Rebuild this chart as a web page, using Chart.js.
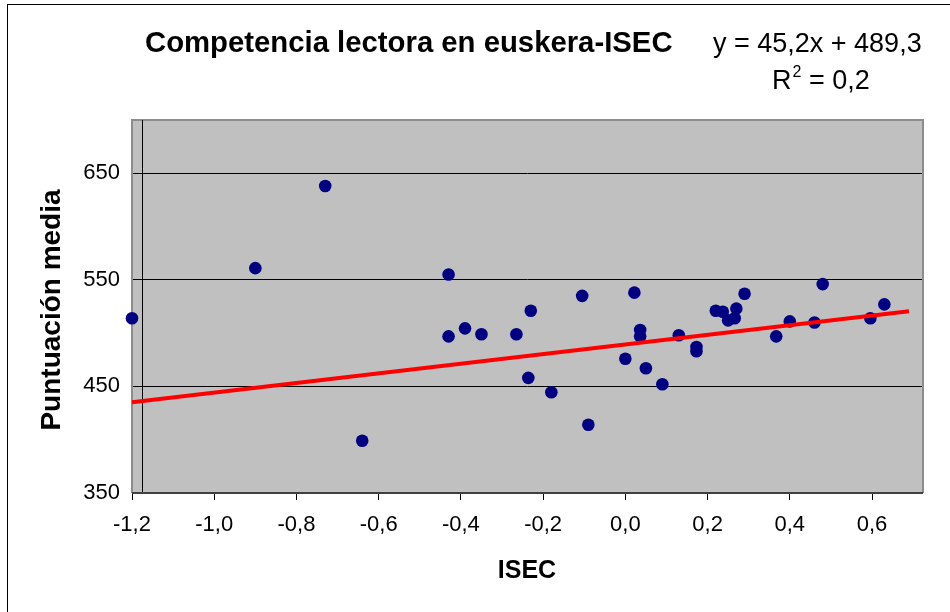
<!DOCTYPE html>
<html>
<head>
<meta charset="utf-8">
<title>Competencia lectora en euskera-ISEC</title>
<script src="https://cdn.jsdelivr.net/npm/chart.js@4.4.1/dist/chart.umd.min.js"></script>
<style>
  html, body { margin: 0; padding: 0; background: #fff; }
  #wrap { position: relative; width: 950px; height: 612px; overflow: hidden; }
  #frame {
    position: absolute; left: 7px; top: 4px; width: 1000px; height: 700px;
    border-left: 1px solid #000; border-top: 1px solid #000;
  }
  #chart { position: absolute; left: 0; top: 0; }
</style>
</head>
<body>
<div id="wrap">
  <div id="frame"></div>
  <canvas id="chart" width="950" height="612"></canvas>
</div>
<script>
// ISEC index per school and its mean reading score in Basque
const isec = [-1.20, -0.90, -0.73, -0.64, -0.43, -0.43, -0.39, -0.35, -0.265, -0.23,
  -0.236, -0.18, -0.105, -0.09, 0.022, 0.0, 0.036, 0.036, 0.05, 0.09,
  0.13, 0.173, 0.173, 0.22, 0.237, 0.25, 0.266, 0.27, 0.29, 0.367,
  0.40, 0.46, 0.48, 0.596, 0.63]
const puntuacion = [514, 561, 638, 399, 555, 497, 504.5, 499, 499, 521,
  458, 444.5, 535, 414, 538, 476, 503, 497, 467, 452,
  498, 487, 483, 521, 520, 512, 514, 523, 537, 497,
  511, 510, 546, 514, 527]

const xTicks = [-1.2, -1.0, -0.8, -0.6, -0.4, -0.2, 0.0, 0.2, 0.4, 0.6]
const yTicks = [350, 450, 550, 650]
const xRange = [-1.2, 0.724]
const yRange = [350, 700]
const valueAxisCross = -1.176

// linear trend: y = 45,2x + 489,3
const trendSlope = 45.2
const trendIntercept = 489.3
const trendR2 = 0.2
const trendSpan = [-1.2, 0.69]

const fontFamily = '"Liberation Sans", Arial, sans-serif'
const comma = (v, d) => v.toFixed(d).replace(".", ",")

const trendPoints = trendSpan.map((x) => ({ x: x, y: trendIntercept + trendSlope * x }))

const excelFrame = {
  id: "excelFrame",
  beforeDraw(chart) {
    const { ctx, chartArea: a } = chart
    ctx.save()
    ctx.fillStyle = "#C0C0C0"
    ctx.fillRect(a.left, a.top, a.right - a.left, a.bottom - a.top)
    ctx.restore()
  },
  beforeDatasetsDraw(chart) {
    const { ctx, chartArea: a, scales } = chart
    ctx.save()
    // plot border
    ctx.strokeStyle = "#8C8C8C"
    ctx.lineWidth = 2
    ctx.beginPath()
    ctx.moveTo(a.left, a.bottom)
    ctx.lineTo(a.left, a.top)
    ctx.lineTo(a.right, a.top)
    ctx.lineTo(a.right, a.bottom)
    ctx.stroke()
    // value axis line
    const xc = Math.round(scales.x.getPixelForValue(valueAxisCross)) + 0.5
    ctx.strokeStyle = "#000"
    ctx.lineWidth = 1
    ctx.beginPath()
    ctx.moveTo(xc, a.top)
    ctx.lineTo(xc, a.bottom)
    ctx.stroke()
    // bottom axis line
    ctx.strokeStyle = "#404040"
    ctx.lineWidth = 2
    ctx.beginPath()
    ctx.moveTo(a.left, a.bottom)
    ctx.lineTo(a.right, a.bottom)
    ctx.stroke()
    ctx.restore()
  },
  afterDraw(chart) {
    const { ctx } = chart
    ctx.save()
    ctx.fillStyle = "#000"
    ctx.textBaseline = "alphabetic"

    ctx.font = "bold 29.3px " + fontFamily
    ctx.textAlign = "left"
    ctx.fillText("Competencia lectora en euskera-ISEC", 145, 52)

    ctx.font = "27px " + fontFamily
    ctx.fillText("y = " + comma(trendSlope, 1) + "x + " + comma(trendIntercept, 1), 713, 52)

    ctx.fillText("R", 772, 89)
    const rw = ctx.measureText("R").width
    ctx.font = "16px " + fontFamily
    ctx.fillText("2", 772 + rw + 1, 77)
    const sw = ctx.measureText("2").width
    ctx.font = "27px " + fontFamily
    ctx.fillText(" = " + comma(trendR2, 1), 772 + rw + sw + 1, 89)

    // axis titles
    ctx.font = "bold 25px " + fontFamily
    ctx.textAlign = "center"
    ctx.textBaseline = "middle"
    ctx.fillText("ISEC", 527, 571)

    ctx.translate(52, 310)
    ctx.rotate(-Math.PI / 2)
    ctx.font = "bold 28px " + fontFamily
    ctx.fillText("Puntuación media", 0, 0)
    ctx.restore()
  },
}

const ctx = document.getElementById("chart").getContext("2d")

new Chart(ctx, {
  type: "scatter",
  data: {
    datasets: [
      {
        type: "line",
        label: "Tendencia",
        data: trendPoints,
        borderColor: "#FF0000",
        borderWidth: 4,
        pointRadius: 0,
        fill: false,
        order: 0,
        clip: false,
      },
      {
        label: "Centros",
        data: isec.map((x, i) => ({ x: x, y: puntuacion[i] })),
        backgroundColor: "#000080",
        borderColor: "#000080",
        borderWidth: 0,
        pointRadius: 6.3,
        pointHoverRadius: 6.3,
        order: 1,
        clip: false,
      },
    ],
  },
  options: {
    responsive: false,
    animation: false,
    events: [],
    layout: { padding: { top: 120, right: 27, left: 0, bottom: 0 } },
    plugins: {
      legend: { display: false },
      tooltip: { enabled: false },
      title: { display: false },
    },
    scales: {
      x: {
        type: "linear",
        min: xRange[0],
        max: xRange[1],
        afterBuildTicks: (scale) => { scale.ticks = xTicks.map((v) => ({ value: v })) },
        afterFit: (scale) => { scale.height = 119 },
        grid: { drawOnChartArea: false, drawTicks: true, tickLength: 7, color: "#000", lineWidth: 1 },
        border: { display: false },
        ticks: {
          color: "#000",
          padding: 12,
          maxRotation: 0,
          font: { family: fontFamily, size: 22 },
          callback: (v) => comma(v, 1),
        },
      },
      y: {
        type: "linear",
        min: yRange[0],
        max: yRange[1],
        afterBuildTicks: (scale) => { scale.ticks = yTicks.map((v) => ({ value: v })) },
        afterFit: (scale) => { scale.width = 132 },
        grid: { color: "#000", lineWidth: 1, drawTicks: false },
        border: { display: false },
        ticks: {
          color: "#000",
          padding: 12,
          font: { family: fontFamily, size: 22 },
          callback: (v) => String(v),
        },
      },
    },
  },
  plugins: [excelFrame],
})
</script>
</body>
</html>
